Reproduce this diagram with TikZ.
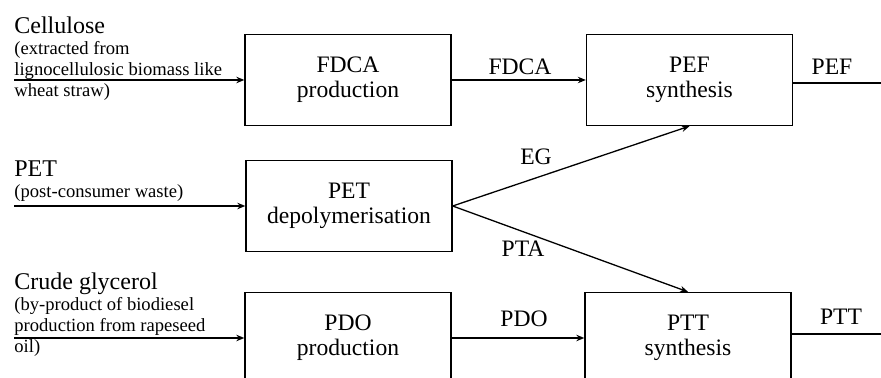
\documentclass[tikz,border=0pt]{standalone}
\usepackage{fontspec}
\setmainfont{Liberation Serif}
\usepackage{tikz}
\usetikzlibrary{positioning, arrows.meta}
\newcommand{\srcname}[1]{{\fontsize{12}{14}\selectfont #1}}

\begin{document}
\begin{tikzpicture}[x=0.5pt, y=-0.5pt,
		process/.style={draw, line width=0.65pt, minimum width=103pt, minimum height=45.5pt, inner sep=0pt, align=center, font=\fontsize{11.8}{12.5}\selectfont},
		source/.style={anchor=base west, inner sep=0pt, font=\fontsize{9.3}{10.4}\selectfont},
		lbl/.style={anchor=base, inner sep=0pt, font=\fontsize{11.8}{12.5}\selectfont},
		flow/.style={-{Stealth[length=4pt, width=3.2pt]}, line width=0.65pt}]
		\useasboundingbox (0, 0) rectangle (881, 378);
		\clip (0, 0) rectangle (881, 378); % Bottom boxes run off the page
		
		% Process boxes
		\node[process] (fdca) at (348, 80) {FDCA\\production};
		\node[process] (pef) at (689.5, 80) {PEF\\synthesis};
		\node[process] (pet) at (349, 206) {PET\\depolymerisation};
		\node[process] (pdo) at (348, 338) {PDO\\production};
		\node[process] (ptt) at (688, 338) {PTT\\synthesis};
		
		% Feedstocks
		\node[source] (cellulose) at (14, 34) {\begin{tabular}[t]{@{}l@{}}\srcname{Cellulose}\\(extracted from\\lignocellulosic biomass like\\wheat straw)\end{tabular}};
		\node[source] (petwaste) at (14, 177) {\begin{tabular}[t]{@{}l@{}}\srcname{PET}\\(post-consumer waste)\end{tabular}};
		\node[source] (glycerol) at (14, 290) {\begin{tabular}[t]{@{}l@{}}\srcname{Crude glycerol}\\(by-product of biodiesel\\production from rapeseed\\oil)\end{tabular}};
		\coordinate (cellin) at (14, 80);
		\coordinate (petin) at (14, 206);
		\coordinate (glyin) at (14, 338);
		\coordinate (pefout) at (881, 83);
		\coordinate (pttout) at (881, 334);
		
		% Flows
		\draw[flow] (cellin) -- (fdca.west);
		\draw[flow] (petin) -- (pet.west);
		\draw[flow] (glyin) -- (pdo.west);
		\draw[flow] (fdca.east) -- (pef.west);
		\draw[flow] (pet.east) -- (pef.south);
		\draw[flow] (pet.east) -- (ptt.north);
		\draw[flow] (pdo.east) -- (ptt.west);
		\draw[line width=0.65pt] (pefout -| pef.east) -- (pefout);
		\draw[line width=0.65pt] (pttout -| ptt.east) -- (pttout);
		
		% Stream labels
		\node[lbl] (fdcalbl) at (520, 75) {FDCA};
		\node[lbl] (peflbl) at (832, 75) {PEF};
		\node[lbl] (eglbl) at (536, 165) {EG};
		\node[lbl] (ptalbl) at (523, 257) {PTA};
		\node[lbl] (pdolbl) at (524, 327) {PDO};
		\node[lbl] (pttlbl) at (841, 325) {PTT};
	\end{tikzpicture}
\end{document}
